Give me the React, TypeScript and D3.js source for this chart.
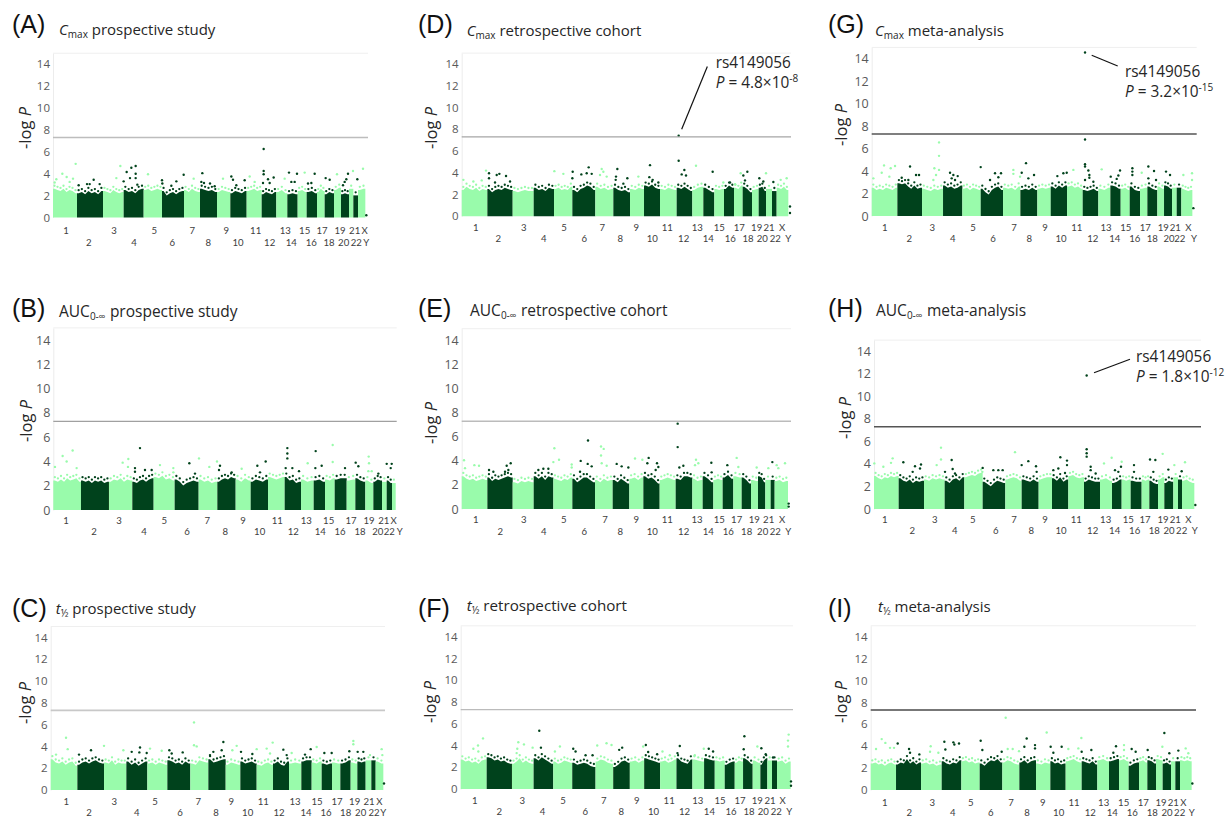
import { useEffect, useRef } from "react";
import * as d3 from "d3";

// Chromosome names along the x axis
const chromosomes = ["1","2","3","4","5","6","7","8","9","10","11","12","13","14","15","16","17","18","19","20","21","22","X","Y"];
const yTicks = [0, 2, 4, 6, 8, 10, 12, 14];
const threshold = 7.3;

// Genome axis: cumulative position of each chromosome boundary, last entry is the axis end
const boundsA = [160,232,310,372,432,487,553,601,652,692,741,786,830,863,894,921,952,975,1003,1024,1048,1061,1075,1097,1101,1105];
const boundsB = [160,243,327,397,461,524,596,652,707,752,804,854,903,941,975,1004,1040,1066,1096,1120,1146,1160,1176,1187,1189,1190];
const boundsC = [152,232,312,379,442,502,571,625,677,721,770,819,867,904,935,965,996,1021,1052,1072,1097,1114,1127,1150,1153,1155];
const boundsD = [155,232,308,371,432,487,556,610,660,702,750,800,847,880,913,942,972,998,1026,1046,1068,1086,1100,1135,1142,1143];
const boundsE = [155,232,308,371,430,487,555,608,658,700,749,797,847,878,910,938,970,995,1023,1044,1066,1082,1094,1134,1138,1143];
const boundsF = [152,230,306,371,430,487,557,610,660,703,751,800,848,883,915,945,975,1000,1029,1052,1073,1087,1102,1143,1146,1150];
const boundsG = [155,232,306,369,427,482,549,601,652,692,741,788,835,871,902,929,960,982,1012,1032,1056,1070,1084,1117,1122,1130];
const boundsH = [162,236,312,374,433,488,556,605,656,696,745,792,840,876,905,932,965,988,1014,1033,1060,1074,1086,1123,1127,1143];
const boundsI = [152,228,303,365,424,479,547,598,648,691,737,785,832,867,897,926,957,982,1008,1028,1053,1066,1080,1115,1119,1128];

// Where each chromosome label sits on the genome axis
const labelsA = [199,267,343,403,464,518,578,626,680,715,768,810,857,875,915,935,967,988,1021,1032,1065,1070,1095,1100];
const labelsB = [198,282,357,432,493,561,622,676,729,779,832,880,919,961,986,1020,1053,1080,1107,1133,1151,1168,1181,1199];
const labelsC = [199,267,343,410,465,540,595,648,694,743,790,837,885,918,951,978,1011,1037,1064,1082,1107,1122,1138,1150];
const labelsD = [197,265,341,401,462,523,577,631,679,727,772,821,862,895,928,961,988,1014,1040,1057,1077,1096,1116,1135];
const labelsE = [197,271,341,401,461,523,585,631,679,727,772,821,861,895,928,955,980,1010,1033,1058,1076,1096,1116,1135];
const labelsF = [194,268,337,398,459,526,582,634,681,731,778,824,864,899,931,964,991,1018,1043,1061,1081,1100,1119,1139];
const labelsG = [194,268,337,398,459,519,582,628,675,723,770,818,858,884,917,944,976,997,1030,1047,1066,1079,1105,1122];
const labelsH = [194,277,344,404,458,527,582,634,675,723,769,818,857,884,925,944,975,1003,1029,1047,1066,1085,1105,1124];
const labelsI = [194,268,337,398,452,512,573,621,668,716,762,811,851,877,911,937,970,997,1023,1041,1060,1079,1090,1115];

// Top of the dense SNP mass, read per chromosome from left to right
const massA = [[2.9,2.8,2.7,2.9,2.6,2.8,2.7,2.5],[2.5,2.6,2.4,2.7,2.5,2.6,2.4,2.7],[2.7,2.6,2.5,2.8,2.6,2.5,2.6],[2.8,2.6,2.7,2.5,2.8,2.9],[2.8,2.9,2.7,2.8,2.9,2.8],[2.7,2.3,2.5,2.6,2.4,2.6,2.7],[2.8,2.6,2.9,2.7,2.6],[2.9,2.8,2.7,2.8,2.6],[2.6,2.8,2.7,2.6],[2.5,2.7,2.6,2.5,2.7],[2.7,2.8,2.9,2.7,2.8],[2.4,2.6,2.5,2.4,2.6],[2.6,2.8,2.5],[2.4,2.5,2.4],[2.7,2.8,2.6],[2.6,2.7,2.5],[2.6,2.9,2.7],[2.4,2.6,2.5],[2.8,3.0],[2.4,2.5,2.4],[2.9],[2.3],[2.8,2.9]];
const massB = [[2.7,2.6,2.8,2.6,2.9,2.7,2.8,2.9,2.6],[2.7,2.6,2.7,2.5,2.7,2.6,2.7,2.5,2.6],[2.6,2.8,2.7,2.9,2.6,2.8,2.7],[2.6,2.5,2.7,2.8,2.6,2.8,2.9],[3.0,2.9,3.1,2.8,2.9,2.7],[2.8,2.6,2.3,2.5,2.6,2.7,2.6],[2.8,2.6,2.7,2.5,2.6],[2.6,2.8,2.9,2.8,3.0,2.9],[2.8,2.6,2.9,2.7],[2.6,2.8,2.7,2.6,2.8],[3.0,2.9,2.8,2.9,3.0],[3.0,2.7,2.8,2.5,2.6],[2.8,2.6,2.7],[2.7,2.8,2.6],[2.8,2.7,2.9],[2.8,2.9,2.9],[2.7,2.8],[2.9,2.7,2.6],[2.7,2.5],[2.6,2.8,2.7],[2.6],[2.7,2.5],[2.5]];
const massC = [[3.1,2.8,2.7,2.9,2.6,2.8,2.9,2.5],[2.6,2.8,2.9,2.7,2.9,3.0,2.8,2.7],[2.8,2.7,3.0,2.6,2.8,2.7,2.7],[2.9,2.6,2.8,2.5,2.7,2.9],[2.7,2.8,2.6,2.8,2.7,2.6],[3.0,2.9,2.7,2.8,2.6,2.9,2.7],[2.7,2.6,3.0,2.9,2.8],[3.1,2.8,2.9,3.0,3.1],[2.6,2.8,2.7,2.6],[2.9,2.7,2.8,2.9,2.7],[2.6,2.5,2.7,2.8,2.6],[2.7,2.9,2.6,2.5,2.9],[2.7,2.8,2.7],[2.9,3.0,3.0],[2.8,2.7,2.9],[2.7,2.6,2.7],[2.8,2.7],[2.7,2.8,3.0],[2.8,2.7],[2.9,2.8,2.9],[3.0],[3.0],[2.9,2.7]];
const massD = [[2.7,3.0,2.8,2.7,2.9,2.6,2.8,2.7],[2.8,2.5,2.7,2.8,2.7,2.9,2.8,2.7],[2.6,2.5,2.6,2.7,2.6,2.6],[2.9,2.7,2.8,2.6,2.9,2.8],[2.8,2.9,2.7,2.8,2.7,3.0],[2.7,2.5,2.8,2.9,3.1,3.0,2.7],[3.0,2.8,2.9,2.7,2.8],[2.9,2.7,2.6,2.7,2.5],[2.8,2.7,2.9,2.8],[3.1,3.0,3.2,2.9,2.8],[2.8,2.7,2.9,2.8,2.7],[2.9,2.8,3.0,2.8,2.6],[2.7,2.9,3.0],[2.9,2.7,2.5],[2.8,2.7,2.8],[2.8,3.1,2.9],[2.9,2.8,3.1],[3.0,2.8,2.5],[2.7,2.8],[2.9,3.0,2.6],[2.8],[2.6],[2.9,2.8,3.0,2.7]];
const massE = [[3.0,2.8,2.7,2.8,2.6,2.7,2.8,2.7],[2.9,2.6,2.8,2.7,2.8,2.9,3.0,2.9],[2.5,2.4,2.6,2.5,2.6,2.5],[3.0,2.8,3.0,2.7,3.0,2.9],[2.8,2.7,2.6,2.8,2.7,2.9],[2.8,2.5,2.7,2.9,2.9,2.7,2.5],[2.7,2.5,2.8,2.6,2.7],[2.7,2.5,2.8,2.6,2.4],[2.8,2.9,2.7,2.9],[3.0,2.8,2.9,2.7,2.4],[2.7,2.8,2.9,2.8,2.7],[2.8,2.7,3.0,3.0,2.9],[2.8,2.6,2.7],[3.0,2.8,2.5],[2.7,2.8,2.7],[2.9,3.1,2.8],[3.0,2.9],[2.9,2.7,2.4],[2.7,2.6],[3.0,2.9,2.5],[2.7],[2.7],[2.6,2.7,2.5,2.6]];
const massF = [[3.0,2.8,2.9,2.7,2.8,2.6,2.9,3.0],[3.2,3.1,2.9,3.0,2.8,2.9,2.7,2.6],[2.6,2.8,3.1,2.7,2.9,2.7,2.6],[3.1,2.9,3.2,3.0,2.8,2.6],[2.8,2.6,2.7,2.9,2.8,2.7],[2.7,2.5,2.6,2.7,2.6,2.4,2.3],[2.8,3.0,2.9,2.7,2.6],[2.3,2.5,2.8,2.9,2.7],[2.8,2.9,2.7,2.9],[3.1,3.0,2.9,2.8,2.7],[2.8,2.9,2.7,2.8,3.0],[3.1,2.8,2.7,2.6,3.0],[3.0,2.9,2.8],[3.1,3.0,2.9],[2.9,2.8,2.9],[2.5,2.7,2.8],[2.7,2.9,2.8],[3.1,2.9,2.6],[2.9,2.7],[2.5,2.9,3.1],[2.9],[2.9],[2.8,2.9,2.6,2.8]];
const massG = [[2.8,2.6,2.7,2.6,2.8,2.7,2.6,2.8],[3.2,3.1,3.2,2.9,2.7,3.0,2.7,2.8],[2.7,2.6,2.5,2.7,2.6,2.7],[3.0,2.8,2.9,2.7,2.8,3.0],[2.7,2.8,2.6,2.8,2.7,2.6],[2.7,2.4,2.2,2.6,2.8,2.9,2.6],[2.8,2.7,2.8,2.6,2.9],[2.6,2.7,2.6,2.8,2.6],[2.7,2.8,2.7,2.8],[2.9,2.7,3.0,2.8,3.0],[2.9,3.0,2.8,2.9,2.7],[2.6,2.5,2.6,2.7,2.5],[2.7,2.6,2.8],[3.0,2.9,2.7],[2.7,2.8,2.6],[2.9,2.6,2.5],[2.7,2.8],[2.9,2.7,2.6],[2.9,2.7],[3.0,2.9,2.7],[2.8],[2.8],[2.7,2.6,2.5,2.6]];
const massH = [[3.2,3.0,2.9,3.1,3.0,3.2,3.1,3.2],[3.0,2.8,2.7,2.9,2.6,2.8,2.7,2.8],[2.9,2.8,3.0,2.9,3.0,2.9],[2.8,2.6,2.9,3.0,2.8,3.1],[3.1,3.2,3.3,3.2,3.4,3.5],[2.7,2.5,2.3,2.6,2.8,2.7,2.6],[2.9,3.0,3.1,3.0,2.8],[2.9,2.8,2.7,2.9,2.7],[2.9,3.0,3.1,3.1],[3.0,2.8,3.1,2.7,2.9],[3.2,3.3,3.1,3.0,3.1],[2.7,2.9,2.8,2.7,2.7],[2.9,3.0,2.8],[2.6,2.7,2.9],[2.9,2.8,2.9],[2.8,2.7,2.7],[2.9,2.8,2.9],[2.8,2.6,2.5],[2.9,3.1],[2.6,2.8,2.7],[3.1],[2.9],[2.8,2.9,2.7,2.6]];
const massI = [[2.7,2.8,2.6,2.7,2.5,2.7,2.8,2.6],[2.6,2.8,2.7,3.1,2.7,2.9,2.6,2.8],[2.7,2.8,2.6,2.7,2.5,2.6],[2.9,2.7,2.6,2.8,2.7,3.0],[2.9,3.0,2.8,2.9,2.7,2.8],[2.7,2.5,2.8,3.0,2.9,3.1,2.8],[2.8,3.0,2.9,2.7,2.6],[2.8,3.0,2.7,2.9,3.0],[2.7,2.6,2.8,2.7],[2.9,2.7,2.8,2.6,2.7],[2.9,3.0,3.1,2.9,2.8],[2.9,2.8,2.7,2.9,2.6],[3.0,3.1,2.9],[2.9,3.0,3.1],[3.0,3.1,2.9],[2.5,2.7,2.8],[2.9,3.0,2.8],[3.0,2.9,2.7],[3.1,3.0],[2.7,2.8,2.6],[2.9],[2.9],[3.0,2.9,3.0,2.9]];

// Single SNPs standing clear of the mass: [genome position, -log P]
const snpsA = [[228,4.9],[188,4.0],[201,3.7],[170,3.5],[220,3.55],[165,3.2],[210,3.25],[237,2.95],[282,3.45],[262,3.05],[270,3.05],[300,3.05],[362,4.7],[395,4.55],[408,4.7],[381,4.15],[408,4.0],[391,3.6],[408,3.6],[372,3.3],[350,3.6],[445,3.95],[413,3.0],[552,3.9],[487,3.4],[488,3.1],[530,3.3],[515,2.9],[582,3.55],[608,4.05],[605,3.25],[613,3.15],[631,3.1],[670,3.55],[645,2.85],[695,3.75],[700,3.45],[735,3.4],[710,2.95],[750,3.75],[765,3.25],[792,6.25],[792,4.25],[792,3.95],[805,3.5],[822,3.65],[790,3.15],[810,3.15],[868,4.1],[855,3.55],[875,3.25],[885,3.25],[892,4.0],[915,4.1],[945,4.0],[925,3.1],[935,3.15],[978,3.6],[990,3.45],[1012,3.95],[1045,4.0],[1060,4.25],[1073,3.5],[1090,4.45],[1040,3.5],[1035,3.25],[1030,2.95],[1100,0.2]];
const snpsB = [[218,4.9],[188,4.45],[200,4.0],[165,3.55],[230,3.45],[420,5.1],[405,3.45],[405,3.15],[435,3.3],[455,3.3],[385,4.2],[368,3.9],[384,3.55],[480,3.7],[520,3.45],[520,3.1],[568,3.85],[597,4.25],[585,3.0],[651,4.0],[660,3.65],[628,3.55],[657,3.3],[695,3.1],[772,3.65],[797,4.0],[780,3.1],[725,3.4],[862,5.1],[862,4.65],[862,4.25],[857,3.45],[877,3.45],[897,3.2],[947,4.85],[946,3.45],[965,3.65],[923,3.85],[998,5.35],[998,3.95],[1035,3.45],[1067,3.9],[1075,3.6],[1106,4.4],[1107,3.85],[1160,3.8],[1175,3.8],[1172,3.45],[1105,3.2],[1135,3.0],[1115,3.2]];
const snpsC = [[198,4.8],[203,3.75],[168,3.25],[312,4.05],[395,3.5],[420,3.9],[418,3.45],[440,3.4],[450,3.8],[485,3.6],[370,3.65],[273,3.65],[237,3.25],[582,6.2],[582,4.1],[590,4.0],[508,3.65],[548,3.45],[515,3.35],[670,4.4],[640,3.5],[665,3.65],[710,4.05],[697,3.65],[630,3.2],[723,3.5],[757,3.3],[770,3.75],[818,4.35],[850,3.7],[860,3.2],[800,3.8],[810,3.35],[875,3.4],[932,3.75],[950,3.95],[915,3.25],[973,3.4],[995,3.4],[1060,4.5],[1060,4.2],[1048,3.55],[1073,3.5],[1090,3.5],[1110,3.2],[1145,3.75],[1147,3.2],[1152,0.6]];
const snpsD = [[806,7.4],[806,5.1],[823,4.25],[815,3.85],[828,3.75],[858,4.65],[908,4.1],[720,4.7],[718,3.6],[745,3.1],[728,3.35],[622,4.35],[618,3.65],[617,3.35],[652,3.5],[640,3.0],[536,4.5],[514,3.85],[530,3.95],[545,3.9],[488,4.1],[487,3.5],[433,4.15],[460,3.9],[237,3.95],[237,3.5],[260,3.8],[268,3.9],[288,3.7],[255,3.1],[300,3.2],[228,4.2],[160,3.35],[190,3.2],[215,3.3],[575,4.35],[580,4.1],[570,3.8],[590,3.65],[685,3.65],[1012,4.1],[992,3.95],[1068,3.95],[1048,3.5],[1060,3.2],[1005,3.3],[940,3.1],[960,3.1],[975,2.95],[1090,3.15],[1130,3.5],[1112,3.35],[1140,0.9],[1140,0.3],[1000,3.75]];
const snpsE = [[803,7.1],[803,5.15],[534,5.7],[512,4.0],[433,5.05],[430,3.9],[447,4.1],[573,5.2],[581,5.0],[573,4.45],[575,3.8],[590,3.6],[620,3.75],[635,3.55],[655,3.45],[716,4.25],[712,3.8],[741,3.8],[745,3.5],[737,3.25],[675,4.2],[697,4.1],[162,4.05],[165,3.4],[193,3.65],[207,3.6],[302,3.8],[290,3.6],[237,3.25],[295,3.25],[285,3.1],[250,3.1],[533,3.75],[545,3.55],[485,3.7],[485,3.45],[510,3.1],[400,3.35],[385,3.25],[415,3.35],[820,3.6],[808,3.45],[858,4.1],[855,3.65],[865,3.8],[904,3.85],[905,3.05],[952,3.65],[980,4.25],[985,3.5],[1087,3.9],[1040,3.45],[1100,3.65],[1105,3.4],[1125,3.8],[1075,3.4],[1136,0.45],[1136,0.2]];
const snpsF = [[388,5.35],[219,4.65],[204,4.0],[190,3.7],[205,3.45],[1004,4.85],[1002,3.65],[1137,5.0],[1135,4.45],[1135,3.9],[325,4.3],[342,4.1],[322,3.7],[320,3.3],[393,3.8],[368,3.8],[450,3.9],[435,3.45],[490,3.7],[497,3.45],[548,3.1],[527,3.1],[562,4.0],[590,4.2],[605,4.05],[637,3.8],[628,3.6],[708,4.05],[700,3.9],[715,3.4],[742,3.2],[810,3.95],[803,3.3],[882,3.7],[897,3.7],[910,3.45],[1043,3.9],[1055,3.75],[1068,3.2],[1090,2.9],[758,3.45],[780,3.1],[855,3.1],[1144,0.7],[1144,0.3]];
const snpsG = [[795,14.55],[795,6.8],[795,4.6],[795,4.4],[805,4.05],[808,3.65],[808,3.4],[795,3.2],[820,3.05],[357,6.55],[357,5.35],[343,4.25],[357,4.1],[348,3.65],[340,3.2],[192,4.5],[225,4.45],[212,4.25],[185,3.85],[208,3.5],[160,3.35],[270,4.4],[288,3.65],[297,3.65],[245,3.4],[265,3.2],[390,3.85],[400,3.65],[413,3.55],[405,3.2],[395,3.35],[482,4.35],[525,3.8],[543,3.8],[535,3.45],[510,3.2],[618,4.7],[605,3.85],[642,3.65],[600,3.5],[625,3.35],[580,4.1],[580,3.75],[730,3.8],[712,3.55],[740,3.85],[760,4.1],[845,4.15],[872,3.5],[895,3.6],[900,4.05],[890,3.3],[937,4.25],[937,3.95],[937,3.65],[985,4.4],[1002,4.0],[965,3.85],[985,3.35],[1008,3.2],[1038,3.95],[1050,3.65],[1090,3.65],[1116,3.8],[1116,3.2],[1120,0.7]];
const snpsH = [[800,11.85],[800,5.3],[800,4.95],[800,4.65],[812,3.75],[812,3.45],[827,3.15],[363,5.45],[363,4.4],[350,3.9],[395,4.35],[398,3.55],[405,3.15],[375,3.3],[218,4.5],[213,4.1],[163,4.05],[190,3.75],[250,4.15],[303,3.95],[285,3.8],[278,3.3],[300,3.6],[585,5.05],[605,3.9],[625,4.25],[648,3.8],[650,3.3],[488,3.65],[487,3.3],[520,3.45],[535,3.45],[548,3.45],[721,4.6],[741,4.3],[741,3.9],[715,3.6],[700,3.45],[735,3.2],[875,4.55],[885,3.45],[895,3.3],[903,3.75],[852,4.05],[905,4.2],[942,3.9],[942,3.3],[990,4.4],[1006,4.35],[1000,3.3],[1028,4.9],[1045,3.5],[1063,3.9],[1085,3.35],[1095,4.15],[1126,0.35]];
const snpsI = [[557,6.6],[680,5.25],[1033,5.2],[784,4.75],[620,4.7],[482,4.5],[373,4.4],[400,4.35],[403,4.15],[417,4.25],[233,4.25],[185,4.65],[196,4.3],[210,3.85],[168,3.75],[222,3.85],[332,4.0],[330,3.5],[355,3.4],[376,3.7],[267,3.75],[270,3.4],[298,3.25],[613,3.95],[597,3.55],[645,3.8],[645,4.1],[545,3.5],[563,3.75],[578,3.75],[692,3.95],[725,3.95],[700,3.4],[785,3.5],[745,3.75],[775,3.8],[814,3.65],[888,4.0],[880,3.4],[912,4.1],[912,3.65],[935,3.75],[947,3.5],[983,3.65],[1027,3.95],[1048,3.35],[1075,3.6],[1097,3.8],[1105,3.35],[1117,0.6],[487,3.65]];

const LIGHT = "#99fbab";
const DARK = "#05421b";
const SANS = "'Open Sans', sans-serif";
const INK = "#262626";

type Panel = {
  letter: string; lx: number; ly: number;
  measure: string; study: string; tx: number; ty: number; titleSize: number;
  left: number; right: number; y0: number; unit: number;
  bounds: number[]; labels: number[]; mass: number[][]; snps: number[][];
  lineColor: string; lineWidth: number; tickSize: number;
  rowA: number; rowB: number; labelX: number; labelY: number;
  note?: { p: string; exp: string; x: number; y: number; from: number[]; to: number[] };
};

const panels: Panel[] = [
  { letter: "(A)", lx: 12, ly: 33, measure: "C", study: "prospective study", tx: 59, ty: 35, titleSize: 15, left: 53, right: 368, y0: 217.5, unit: 10.95, bounds: boundsA, labels: labelsA, mass: massA, snps: snpsA, lineColor: "#bdbdbd", lineWidth: 1.4, tickSize: 11.5, rowA: 13.3, rowB: 24.7, labelX: 24, labelY: 128 },
  { letter: "(B)", lx: 12, ly: 317, measure: "AUC", study: "prospective study", tx: 59, ty: 317, titleSize: 15.5, left: 53.3, right: 396.7, y0: 510, unit: 12.14, bounds: boundsB, labels: labelsB, mass: massB, snps: snpsB, lineColor: "#a0a0a0", lineWidth: 1.4, tickSize: 12.5, rowA: 10, rowB: 21.7, labelX: 25, labelY: 421 },
  { letter: "(C)", lx: 12, ly: 617, measure: "t", study: "prospective study", tx: 55.7, ty: 614, titleSize: 15, left: 50.7, right: 385, y0: 790, unit: 10.9, bounds: boundsC, labels: labelsC, mass: massC, snps: snpsC, lineColor: "#c8c8c8", lineWidth: 1.8, tickSize: 11.5, rowA: 11.7, rowB: 22.6, labelX: 24, labelY: 703 },
  { letter: "(D)", lx: 418, ly: 33, measure: "C", study: "retrospective cohort", tx: 466.7, ty: 36, titleSize: 15, left: 461.7, right: 791, y0: 216.3, unit: 10.88, bounds: boundsD, labels: labelsD, mass: massD, snps: snpsD, lineColor: "#a6a6a6", lineWidth: 1.4, tickSize: 11.5, rowA: 11, rowB: 22.4, labelX: 430, labelY: 128,
    note: { p: "4.8×10", exp: "-8", x: 715.7, y: 68, from: [892, 13.77], to: [815, 8.0] } },
  { letter: "(E)", lx: 418, ly: 317, measure: "AUC", study: "retrospective cohort", tx: 470, ty: 316, titleSize: 15.5, left: 461.7, right: 791, y0: 509, unit: 12.02, bounds: boundsE, labels: labelsE, mass: massE, snps: snpsE, lineColor: "#bbbbbb", lineWidth: 1.4, tickSize: 12.5, rowA: 10.3, rowB: 22, labelX: 430, labelY: 423 },
  { letter: "(F)", lx: 418, ly: 617, measure: "t", study: "retrospective cohort", tx: 466.7, ty: 611, titleSize: 15.2, left: 460.7, right: 793, y0: 789, unit: 10.88, bounds: boundsF, labels: labelsF, mass: massF, snps: snpsF, lineColor: "#bbbbbb", lineWidth: 1.4, tickSize: 11.5, rowA: 11, rowB: 22.3, labelX: 429, labelY: 702 },
  { letter: "(G)", lx: 828, ly: 33, measure: "C", study: "meta-analysis", tx: 875, ty: 36, titleSize: 15, left: 871.7, right: 1196.7, y0: 216, unit: 11.24, bounds: boundsG, labels: labelsG, mass: massG, snps: snpsG, lineColor: "#555555", lineWidth: 1.4, tickSize: 12.5, rowA: 11, rowB: 22.4, labelX: 840, labelY: 125,
    note: { p: "3.2×10", exp: "-15", x: 1125, y: 76.7, from: [815, 14.3], to: [893, 13.35] } },
  { letter: "(H)", lx: 828, ly: 317, measure: "AUC", study: "meta-analysis", tx: 876, ty: 316, titleSize: 15.5, left: 874, right: 1201, y0: 509, unit: 11.26, bounds: boundsH, labels: labelsH, mass: massH, snps: snpsH, lineColor: "#555555", lineWidth: 1.4, tickSize: 12.5, rowA: 10.3, rowB: 21.7, labelX: 844, labelY: 418,
    note: { p: "1.8×10", exp: "-12", x: 1136, y: 361.7, from: [822, 12.1], to: [930, 13.3] } },
  { letter: "(I)", lx: 828, ly: 617, measure: "t", study: "meta-analysis", tx: 878, ty: 612, titleSize: 15, left: 870.7, right: 1196, y0: 790, unit: 10.95, bounds: boundsI, labels: labelsI, mass: massI, snps: snpsI, lineColor: "#777777", lineWidth: 1.9, tickSize: 11.5, rowA: 12, rowB: 22.6, labelX: 840, labelY: 702 },
];

function Title({ p }: { p: Panel }) {
  const sub = p.measure === "C" ? "max" : p.measure === "AUC" ? "0-∞" : "½";
  return (
    <text x={p.tx} y={p.ty} fontFamily={SANS} fontSize={p.titleSize} fill={INK}>
      <tspan fontStyle={p.measure === "AUC" ? "normal" : "italic"}>{p.measure}</tspan>
      <tspan fontSize={10} dy={3}>{sub}</tspan>
      <tspan dy={-3}>{" " + p.study}</tspan>
    </text>
  );
}

function ManhattanPanel({ p }: { p: Panel }) {
  const axisRef = useRef<SVGGElement>(null);
  const x = d3.scaleLinear().domain([p.bounds[0], p.bounds[p.bounds.length - 1]]).range([p.left, p.right]);
  const y = d3.scaleLinear().domain([0, 15]).range([p.y0, p.y0 - 15 * p.unit]);
  const chromOf = d3.bisector((d: number) => d);

  useEffect(() => {
    // Left axis comes straight from d3, only its look is changed
    const g = d3.select(axisRef.current);
    g.call(d3.axisLeft(y).tickValues(yTicks).tickSize(0).tickPadding(3) as any);
    g.select(".domain").attr("stroke", "#ececec");
    g.selectAll("text").attr("font-family", SANS).attr("font-size", p.tickSize).attr("fill", "#595959");
  }, []);

  return (
    <g>
      <text x={p.lx} y={p.ly} fontFamily="'Liberation Sans', Arial, sans-serif" fontSize={25} fill="#111">{p.letter}</text>
      <Title p={p} />
      <text transform={`translate(${p.labelX},${p.labelY}) rotate(-90)`} textAnchor="middle" dominantBaseline="central" fontFamily={SANS} fontSize={16.5} fill={INK}>
        -log <tspan fontStyle="italic">P</tspan>
      </text>

      <line x1={p.left} x2={p.right} y1={y(15)} y2={y(15)} stroke="#efefef" />
      <g ref={axisRef} transform={`translate(${p.left},0)`} />

      <g filter="url(#soft)">
        {p.mass.map((tops, c) => {
          const x0 = x(p.bounds[c]);
          const x1 = x(p.bounds[c + 1]);
          const color = c % 2 === 0 ? LIGHT : DARK;
          const band = d3.scalePoint<number>().domain(d3.range(tops.length)).range([x0, x1]).padding(0.5);
          // jagged silhouette sits just under the dots that mark each column's top
          const edge: [number, number][] = [[x0, tops[0]], ...tops.map((t, i) => [band(i) as number, t] as [number, number]), [x1, tops[tops.length - 1]]];
          const area = d3.area<[number, number]>().x((d) => d[0]).y0(y(0)).y1((d) => y(d[1] - 0.28));
          return (
            <g key={c} fill={color}>
              <path d={area(edge) as string} />
              {tops.map((t, i) => (
                <circle key={i} cx={band(i)} cy={y(t)} r={1.15} />
              ))}
            </g>
          );
        })}
        {p.snps.map((d, i) => {
          // colour follows the chromosome the SNP falls in
          const c = chromOf.right(p.bounds, d[0]) - 1;
          return <circle key={i} cx={x(d[0])} cy={y(d[1])} r={1.2} fill={c % 2 === 0 ? LIGHT : DARK} />;
        })}
      </g>

      <line x1={p.left} x2={p.right} y1={y(threshold)} y2={y(threshold)} stroke={p.lineColor} strokeWidth={p.lineWidth} />

      {chromosomes.map((name, i) => (
        <text key={name} x={x(p.labels[i])} y={p.y0 + (i % 2 === 0 ? p.rowA : p.rowB)} textAnchor="middle" dominantBaseline="central" fontFamily="Lato, sans-serif" fontSize={9.6} fill="#404040">{name}</text>
      ))}

      {p.note && (
        <g fontFamily={SANS} fontSize={15.4} fill={INK}>
          <line x1={x(p.note.from[0])} y1={y(p.note.from[1])} x2={x(p.note.to[0])} y2={y(p.note.to[1])} stroke="#111" strokeWidth={1.2} />
          <text x={p.note.x} y={p.note.y}>rs4149056</text>
          <text x={p.note.x} y={p.note.y + 20}>
            <tspan fontStyle="italic">P</tspan>{" = " + p.note.p}
            <tspan fontSize={10} dy={-6}>{p.note.exp}</tspan>
          </text>
        </g>
      )}
    </g>
  );
}

export default function App() {
  return (
    <svg width={1231} height={817} style={{ position: "absolute", left: 0, top: 0, background: "#fff" }}>
      <defs>
        <filter id="soft" x="-2%" y="-2%" width="104%" height="104%">
          <feGaussianBlur stdDeviation="0.35" />
        </filter>
      </defs>
      {panels.map((p) => <ManhattanPanel key={p.letter} p={p} />)}
    </svg>
  );
}
